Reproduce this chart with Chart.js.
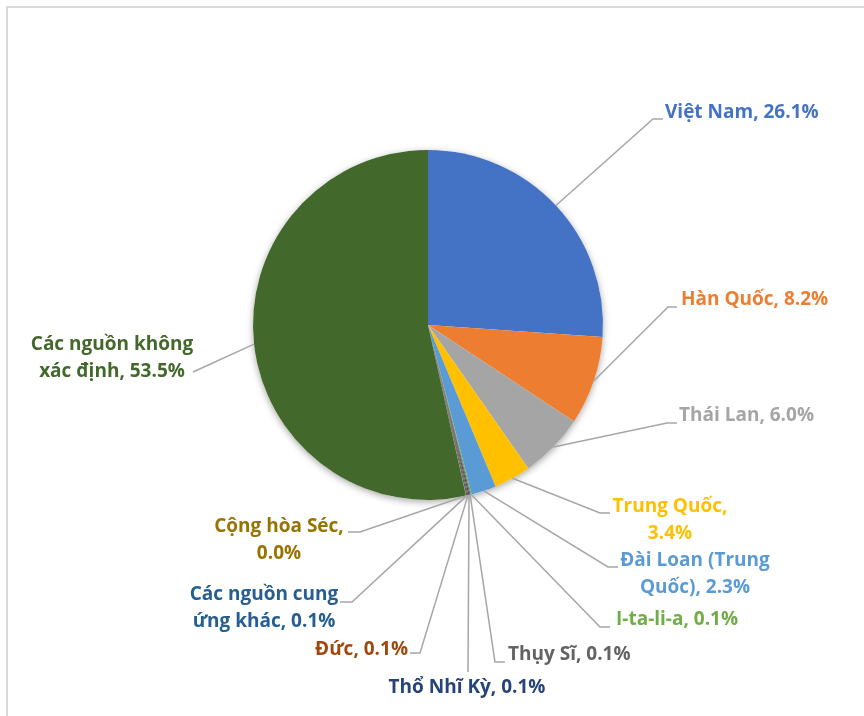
<!DOCTYPE html>
<html>
<head>
<meta charset="utf-8">
<script src="https://cdn.jsdelivr.net/npm/chart.js@4.4.1/dist/chart.umd.min.js"></script>
<style>
  html, body { margin: 0; padding: 0; background: #fff; }
  #wrap { width: 864px; height: 716px; }
</style>
</head>
<body>
<div id="wrap"><canvas id="myChart" width="864" height="716"></canvas></div>
<script>
// share of supply, clockwise from 12 o'clock
var countries = ['Việt Nam', 'Hàn Quốc', 'Thái Lan', 'Trung Quốc', 'Đài Loan (Trung Quốc)', 'I-ta-li-a',
    'Thụy Sĩ', 'Thổ Nhĩ Kỳ', 'Đức', 'Các nguồn cung ứng khác', 'Cộng hòa Séc', 'Các nguồn không xác định'];
var shares = [26.1, 8.2, 6.0, 3.4, 2.3, 0.1, 0.1, 0.1, 0.1, 0.1, 0.04, 53.5];
var colors = ['#4472C4', '#ED7D31', '#A5A5A5', '#FFC000', '#5B9BD5', '#70AD47',
    '#636363', '#264478', '#9E480E', '#255E91', '#997300', '#43682B'];

// how many words go on the first line of each label (0 = one line)
var wrapAfter = [0, 0, 0, 2, 3, 0, 0, 0, 0, 3, 3, 3];

// label layout: text anchor (tx, ty of first line), alignment, leader elbow (ex, ey) and end (hx)
var labelLayout = [
    { tx: 665, ty: 113, align: 'left',   ex: 653, ey: 119, hx: 663 },
    { tx: 681, ty: 300, align: 'left',   ex: 668, ey: 307, hx: 677 },
    { tx: 679, ty: 416, align: 'left',   ex: 667, ey: 423, hx: 677 },
    { tx: 670, ty: 507, align: 'center', ex: 600, ey: 513, hx: 610 },
    { tx: 695, ty: 561, align: 'center', ex: 608, ey: 567, hx: 618 },
    { tx: 616, ty: 620, align: 'left',   ex: 600, ey: 627, hx: 610 },
    { tx: 508, ty: 655, align: 'left',   ex: 495, ey: 662, hx: 505 },
    { tx: 467, ty: 688, align: 'center', ex: 468, ey: 672, hx: 468 },
    { tx: 408, ty: 650, align: 'right',  ex: 420, ey: 653, hx: 410 },
    { tx: 264, ty: 595, align: 'center', ex: 352, ey: 602, hx: 340 },
    { tx: 279, ty: 527, align: 'center', ex: 360, ey: 532, hx: 348 },
    { tx: 112, ty: 345, align: 'center', ex: 193, ey: 372, hx: 193 }
];

var labelFont = 'bold 19px "Open Sans", "Noto Sans", sans-serif';
var lineGap = 27;

function labelLines(i) {
    var full = countries[i] + ', ' + shares[i].toFixed(1) + '%';
    if (!wrapAfter[i]) return [full];
    var words = full.split(' ');
    return [words.slice(0, wrapAfter[i]).join(' '), words.slice(wrapAfter[i]).join(' ')];
}

// light frame round the chart, like the office chart area border
var framePlugin = {
    id: 'frame',
    beforeDraw: function (chart) {
        var c = chart.ctx;
        c.save();
        c.strokeStyle = '#D9D9D9';
        c.lineWidth = 2;
        c.beginPath();
        c.moveTo(7, chart.height + 5);
        c.lineTo(7, 7);
        c.lineTo(chart.width + 5, 7);
        c.stroke();
        c.restore();
    }
};

// soft shadow under the whole pie
var shadowPlugin = {
    id: 'pieShadow',
    beforeDatasetsDraw: function (chart) {
        var arc = chart.getDatasetMeta(0).data[0];
        if (!arc) return;
        var c = chart.ctx;
        c.save();
        c.shadowColor = 'rgba(0,0,0,0.35)';
        c.shadowBlur = 7;
        c.shadowOffsetX = 0;
        c.shadowOffsetY = 2;
        c.fillStyle = '#ffffff';
        c.beginPath();
        c.arc(arc.x, arc.y, arc.outerRadius, 0, Math.PI * 2);
        c.fill();
        c.restore();
    }
};

// outside labels with leader lines
var outLabels = {
    id: 'outLabels',
    afterDatasetsDraw: function (chart) {
        var c = chart.ctx;
        var arcs = chart.getDatasetMeta(0).data;
        c.save();
        for (var i = 0; i < arcs.length; i++) {
            var a = arcs[i], L = labelLayout[i];
            var mid = (a.startAngle + a.endAngle) / 2;
            var px = a.x + Math.cos(mid) * a.outerRadius;
            var py = a.y + Math.sin(mid) * a.outerRadius;
            c.strokeStyle = '#A6A6A6';
            c.lineWidth = 1.5;
            c.beginPath();
            c.moveTo(px, py);
            c.lineTo(L.ex, L.ey);
            c.lineTo(L.hx, L.ey);
            c.stroke();

            var lines = labelLines(i);
            c.font = labelFont;
            c.fillStyle = colors[i];
            c.textAlign = L.align;
            c.textBaseline = 'middle';
            for (var k = 0; k < lines.length; k++)
                c.fillText(lines[k], L.tx, L.ty + k * lineGap);
        }
        c.restore();
    }
};

var ctx = document.getElementById('myChart');

var myChart = new Chart(ctx, {
    type: 'pie',
    data: {
        labels: countries,
        datasets: [{
            data: shares,
            backgroundColor: colors,
            borderWidth: 0,
            hoverOffset: 0,
            offset: 0
        }]
    },
    options: {
        responsive: false,
        animation: false,
        events: [],
        layout: { padding: { left: 253, right: 261, top: 150, bottom: 216 } },
        plugins: {
            legend: { display: false },
            tooltip: { enabled: false }
        }
    },
    plugins: [framePlugin, shadowPlugin, outLabels]
});
</script>
</body>
</html>
